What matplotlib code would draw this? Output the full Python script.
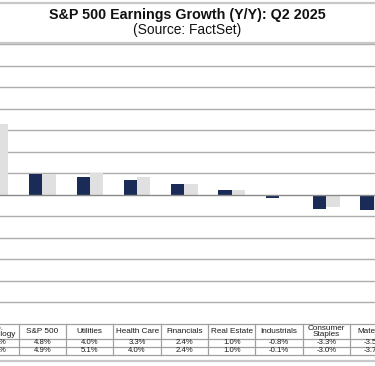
import matplotlib.pyplot as plt
import matplotlib.transforms as mtransforms
import numpy as np

plt.rcParams["font.family"] = ["Liberation Sans", "DejaVu Sans"]

# =========================
# Data
# =========================
sectors = ["Info.\nTechnology", "S&P 500", "Utilities", "Health Care", "Financials",
           "Real Estate", "Industrials", "Consumer\nStaples", "Materials"]
today = [16.6, 4.8, 4.0, 3.3, 2.4, 1.0, -0.8, -3.3, -3.5]
june30 = [16.5, 4.9, 5.1, 4.0, 2.4, 1.0, -0.1, -3.0, -3.7]
row_names = ["Today", "June 30"]
yticks = np.arange(-30, 36, 5)

dark = "#1b2b58"
light = "#e0e0e0"
grid_c = "#adadad"

fig = plt.figure(figsize=(3.75, 3.66), dpi=100)

# axes wider than the figure: the picture is a crop of a wider chart
W, H = 375.0, 366.0
col_px = 47.3
x0_px = -4.8 - col_px / 2
ax = fig.add_axes([x0_px / W, (H - 323.5) / H, col_px * len(sectors) / W, (323.5 - 44.2) / H])

x = np.arange(len(sectors))
bw = 0.28
ax.bar(x - bw / 2, today, width=bw, color=dark, zorder=3)
ax.bar(x + bw / 2, june30, width=bw, color=light, zorder=3)

ax.set_xlim(-0.5, len(sectors) - 0.5)
ax.set_ylim(-30, 35)
ax.set_yticks(yticks)
for t in yticks:
    if t == 0:
        ax.axhline(0, color="#8a8a8a", linewidth=1.0, zorder=4)
    elif t > -30:
        ax.axhline(t, color=grid_c, linewidth=1.0, zorder=1)
ax.set_xticks([])
ax.tick_params(left=False, labelleft=False)
for s in ax.spines.values():
    s.set_visible(False)

# =========================
# Data table under the bars
# =========================
trans = mtransforms.blended_transform_factory(ax.transData, fig.transFigure)


def fy(px):
    return (H - px) / H


edges = [324.0, 339.0, 346.8, 354.5]
tc = "#a0a0a0"
for yy in edges:
    ax.plot([-0.5, len(sectors) - 0.5], [fy(yy)] * 2, transform=trans,
            color=tc, linewidth=0.9, clip_on=False)
for b in np.arange(-0.5, len(sectors), 1.0):
    ax.plot([b, b], [fy(edges[0]), fy(edges[-1])], transform=trans,
            color=tc, linewidth=0.9, clip_on=False)

for i, name in enumerate(sectors):
    ax.text(i, fy((edges[0] + edges[1]) / 2 + 0.3), name, transform=trans, ha="center",
            va="center", fontsize=5.9, linespacing=0.8, color="#1a1a1a")
    ax.text(i, fy((edges[1] + edges[2]) / 2), f"{today[i]:.1f}%", transform=trans,
            ha="center", va="center", fontsize=5.6, color="#1a1a1a")
    ax.text(i, fy((edges[2] + edges[3]) / 2), f"{june30[i]:.1f}%", transform=trans,
            ha="center", va="center", fontsize=5.6, color="#1a1a1a")

# =========================
# Title box
# =========================
for yy in [3.0, 43.3, 360.5]:
    fig.add_artist(plt.Line2D([0, 1], [fy(yy)] * 2, color="#c8c8c8", linewidth=1.6))

fig.text(0.5, fy(15.5), "S&P 500 Earnings Growth (Y/Y): Q2 2025", ha="center", va="center",
         fontsize=10.3, fontweight="bold", color="#111111")
fig.text(0.5, fy(30.0), "(Source: FactSet)", ha="center", va="center",
         fontsize=9.9, color="#111111")

fig.savefig("out.png", dpi=100)
